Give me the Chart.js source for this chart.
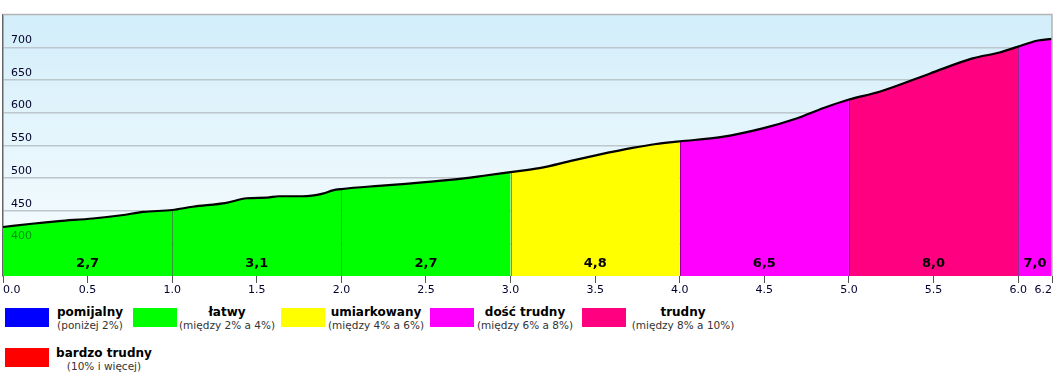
<!DOCTYPE html>
<html>
<head>
<meta charset="utf-8">
<script src="https://cdn.jsdelivr.net/npm/chart.js@4/dist/chart.umd.min.js"></script>
<style>
  html, body { margin: 0; padding: 0; background: #ffffff; }
  #wrap { position: relative; width: 1055px; height: 379px; overflow: hidden; font-family: "DejaVu Sans", Verdana, sans-serif; }
  #c { position: absolute; left: 0; top: 0; }
  .sw { position: absolute; width: 44px; height: 19px; }
  .lt { position: absolute; text-align: center; white-space: nowrap; transform: translateX(-50%); }
  .lt b { display: block; font-size: 12px; line-height: 14px; color: #000; }
  .lt span { display: block; font-size: 10.5px; line-height: 13px; color: #333; }
</style>
</head>
<body>
<div id="wrap">
  <canvas id="c" width="1055" height="300"></canvas>
  <div id="legend"></div>
</div>
<script>
// ---- data ----
const kmPoints = [0, 0.17, 0.33, 0.53, 0.70, 0.83, 1.0, 1.12, 1.32, 1.44, 1.56, 1.63, 1.77, 1.89, 1.95,
  2.0, 2.22, 2.38, 2.64, 2.83, 3.0, 3.17, 3.37, 3.51, 3.72, 3.86, 4.0, 4.25, 4.49, 4.69, 4.85,
  5.0, 5.18, 5.48, 5.73, 5.89, 6.0, 6.11, 6.2];
const elevation = [425, 430, 434, 438, 443, 448, 451, 456, 462, 469, 470, 472, 472, 476, 481,
  483, 488, 491, 497, 503, 509, 515, 527, 535, 546, 552, 556, 563, 576, 591, 607,
  620, 632, 660, 683, 692, 701, 710, 713];

const segStart = [0, 1, 2, 3, 4, 5, 6];
const segEnd = [1, 2, 3, 4, 5, 6, 6.2];
const segGrade = ["2,7", "3,1", "2,7", "4,8", "6,5", "8,0", "7,0"];
const segColor = ["#00ff00", "#00ff00", "#00ff00", "#ffff00", "#ff00ff", "#ff0080", "#ff00ff"];

const xTicks = [0, 0.5, 1.0, 1.5, 2.0, 2.5, 3.0, 3.5, 4.0, 4.5, 5.0, 5.5, 6.0, 6.2];
const yTicks = [400, 450, 500, 550, 600, 650, 700];

const legendNames = ["pomijalny", "łatwy", "umiarkowany", "dość trudny", "trudny", "bardzo trudny"];
const legendRanges = ["(poniżej 2%)", "(między 2% a 4%)", "(między 4% a 6%)", "(między 6% a 8%)", "(między 8% a 10%)", "(10% i więcej)"];
const legendColors = ["#0000ff", "#00ff00", "#ffff00", "#ff00ff", "#ff0080", "#ff0000"];

// ---- legend (HTML) ----
const legendLayout = [
  { sx: 5, sy: 308, tx: 90, ty: 305 },
  { sx: 133, sy: 308, tx: 227, ty: 305 },
  { sx: 281, sy: 308, tx: 376, ty: 305 },
  { sx: 430, sy: 308, tx: 525, ty: 305 },
  { sx: 582, sy: 308, tx: 683, ty: 305 },
  { sx: 5, sy: 348, tx: 104, ty: 346 }
];
const legendEl = document.getElementById('legend');
legendNames.forEach((n, i) => {
  const L = legendLayout[i];
  const sw = document.createElement('div');
  sw.className = 'sw';
  sw.style.left = L.sx + 'px'; sw.style.top = L.sy + 'px';
  sw.style.background = legendColors[i];
  legendEl.appendChild(sw);
  const t = document.createElement('div');
  t.className = 'lt';
  t.style.left = L.tx + 'px'; t.style.top = L.ty + 'px';
  const b = document.createElement('b'); b.textContent = n;
  const s = document.createElement('span'); s.textContent = legendRanges[i];
  t.appendChild(b); t.appendChild(s);
  legendEl.appendChild(t);
});

// ---- chart ----
const profile = kmPoints.map((x, i) => ({ x: x, y: elevation[i] }));
const lineOpts = { pointRadius: 0, tension: 0.3, cubicInterpolationMode: 'monotone' };
const datasets = [Object.assign({
  data: profile, borderColor: '#000000', borderWidth: 2.2, fill: false, order: 0
}, lineOpts)];
segStart.forEach((s, i) => {
  datasets.push(Object.assign({
    data: profile.filter(p => p.x >= s - 1e-9 && p.x <= segEnd[i] + 1e-9),
    borderWidth: 0, borderColor: 'rgba(0,0,0,0)', backgroundColor: segColor[i], fill: 'start', order: 1
  }, lineOpts));
});

const FONT = '"DejaVu Sans", Verdana, sans-serif';

const bgPlugin = {
  id: 'bg',
  beforeDraw(chart) {
    const { ctx, chartArea: a } = chart;
    const g = ctx.createLinearGradient(0, a.top, 0, a.bottom);
    g.addColorStop(0, '#d2eefa');
    g.addColorStop(1, '#fafdff');
    ctx.save();
    ctx.fillStyle = g;
    ctx.fillRect(a.left, a.top, a.right - a.left, a.bottom - a.top);
    ctx.restore();
  },
  afterDatasetsDraw(chart) {
    const { ctx, chartArea: a, scales: { x, y } } = chart;
    ctx.save();
    // dividers
    ctx.strokeStyle = 'rgba(0,0,0,0.4)';
    ctx.lineWidth = 1;
    segStart.forEach((s, i) => {
      if (i === 0) return;
      const p = profile.find(q => Math.abs(q.x - s) < 1e-9);
      const px = Math.round(x.getPixelForValue(s)) + 0.5;
      ctx.beginPath();
      ctx.moveTo(px, y.getPixelForValue(p.y) + 1);
      ctx.lineTo(px, a.bottom);
      ctx.stroke();
    });
    // grade labels
    ctx.fillStyle = '#000';
    ctx.font = 'bold 13px ' + FONT;
    ctx.textAlign = 'center';
    ctx.textBaseline = 'middle';
    segStart.forEach((s, i) => {
      const px = x.getPixelForValue((s + segEnd[i]) / 2);
      ctx.fillText(segGrade[i], px, 264);
    });
    // frame top/right
    ctx.strokeStyle = '#b4b4b4';
    ctx.lineWidth = 1.5;
    ctx.beginPath();
    ctx.moveTo(a.left, a.top);
    ctx.lineTo(a.right, a.top);
    ctx.lineTo(a.right, a.bottom);
    ctx.stroke();
    ctx.restore();
  }
};

new Chart(document.getElementById('c'), {
  type: 'line',
  data: { datasets: datasets },
  options: {
    responsive: false,
    animation: false,
    devicePixelRatio: 1,
    layout: { padding: { left: 3, top: 4, right: 3, bottom: 0 } },
    plugins: { legend: { display: false }, tooltip: { enabled: false } },
    scales: {
      x: {
        type: 'linear', min: 0, max: 6.2,
        afterBuildTicks: s => { s.ticks = xTicks.map(v => ({ value: v })); },
        afterFit: s => { s.height = 24; },
        ticks: {
          callback: v => Number(v).toFixed(1),
          align: 'inner', autoSkip: false, maxRotation: 0, padding: 1,
          color: '#000030', font: { family: FONT, size: 11 }
        },
        grid: { drawOnChartArea: false, drawTicks: true, tickLength: 7, color: '#555', lineWidth: 1 },
        border: { display: false }
      },
      y: {
        type: 'linear', min: 350, max: 750,
        afterBuildTicks: s => { s.ticks = yTicks.map(v => ({ value: v })); },
        afterFit: s => { s.width = 0; },
        ticks: {
          mirror: true, padding: 8, labelOffset: -7, z: 1,
          color: c => (c.tick && c.tick.value === 400) ? 'rgba(0,0,40,0.45)' : '#000028',
          font: { family: FONT, size: 11 }
        },
        grid: { drawTicks: false, color: '#bcc6cb', lineWidth: 1.5 },
        border: { color: '#666', width: 1.5 }
      }
    }
  },
  plugins: [bgPlugin]
});
</script>
</body>
</html>
